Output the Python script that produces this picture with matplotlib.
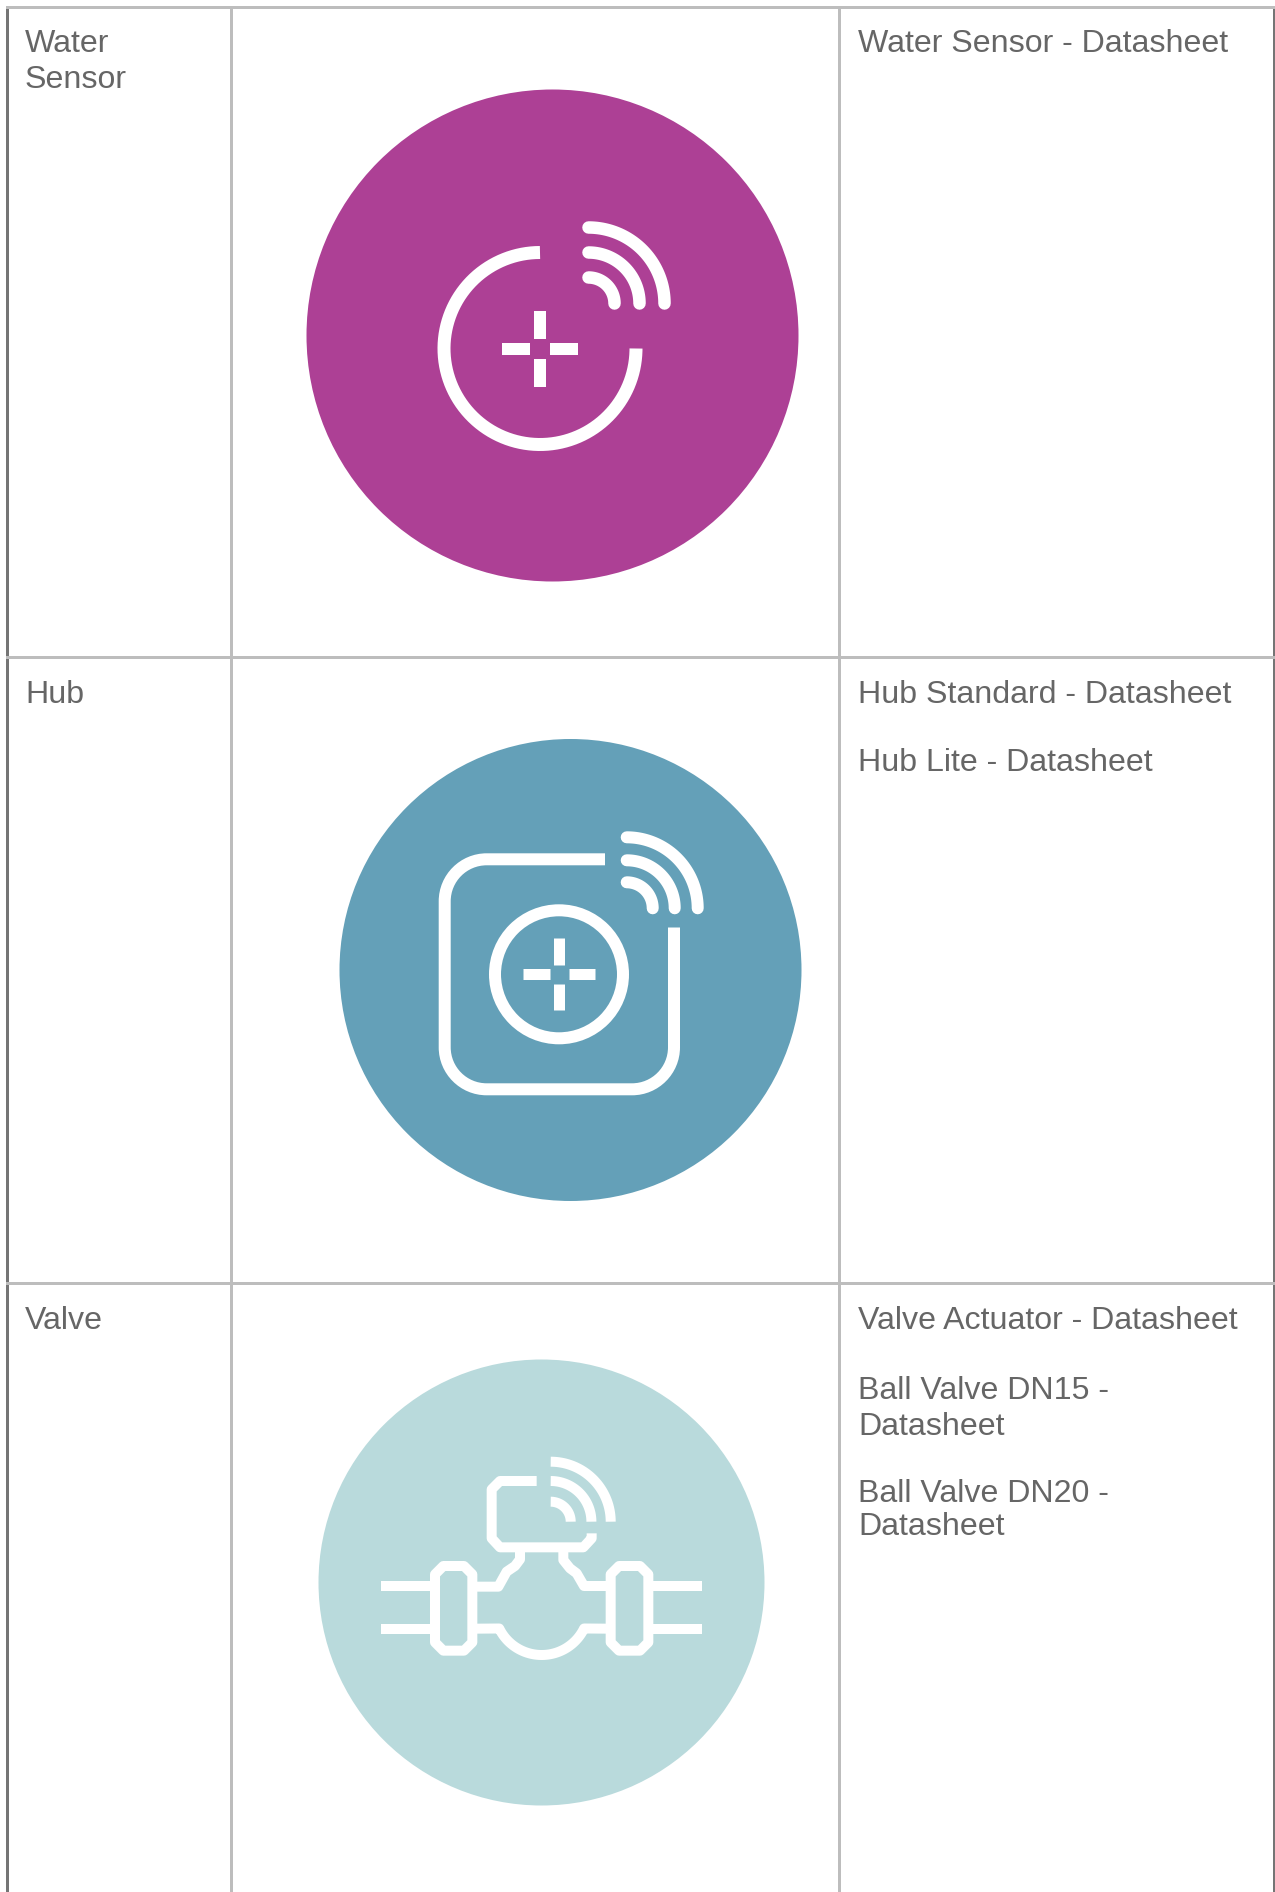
import matplotlib
matplotlib.use('Agg')
import matplotlib.pyplot as plt
import numpy as np
from matplotlib.patches import Circle, PathPatch
from matplotlib.path import Path

# table content
names = [['Water', 'Sensor'], ['Hub'], ['Valve']]
links = [
    ['Water Sensor - Datasheet'],
    ['Hub Standard - Datasheet', 'Hub Lite - Datasheet'],
    ['Valve Actuator - Datasheet', 'Ball Valve DN15 -', 'Datasheet', 'Ball Valve DN20 -', 'Datasheet'],
]
name_y = [[52, 88], [703], [1329]]
link_y = [[52], [703, 771], [1329, 1399, 1435, 1502, 1535]]
circle_colors = ['#AD4095', '#64A0B8', '#B9DADC']
circle_xy = [(552.5, 335.5), (570.5, 970), (541.5, 1582.5)]
circle_r = [246, 231, 223]

GREY = '#BDBDBD'
DARK = '#757575'
TXT = '#666666'
W = 'white'

def px(w):
    return w * 72 / 100

fig = plt.figure(figsize=(12.75, 18.92), dpi=100)
ax = fig.add_axes([0, 0, 1, 1])
ax.set_xlim(0, 1275)
ax.set_ylim(1892, 0)
ax.axis('off')

def wifi(cx, cy, radii, lw, cap):
    for r in radii:
        t = np.linspace(-np.pi / 2, 0, 60)
        ax.plot(cx + r * np.cos(t), cy + r * np.sin(t), color=W, lw=px(lw), solid_capstyle=cap)

def plus(cx, cy, gap, arm, lw):
    for dx, dy in [(1, 0), (-1, 0), (0, 1), (0, -1)]:
        ax.plot([cx + dx * gap, cx + dx * arm], [cy + dy * gap, cy + dy * arm],
                color=W, lw=px(lw), solid_capstyle='butt')

def poly(pts, lw=10):
    # points read in zoom coords of the valve crop
    xs = [360 + p[0] / 3 for p in pts]
    ys = [1430 + p[1] / 3 for p in pts]
    ax.plot(xs, ys, color=W, lw=px(lw), solid_capstyle='butt', solid_joinstyle='round')

# grid lines
for x0, x1, c in [(6, 9, DARK), (230, 233, GREY), (838, 841, GREY), (1273, 1275, DARK)]:
    ax.fill_between([x0, x1], 8, 1892, color=c, lw=0)
for y0, y1 in [(6, 9), (656, 659), (1282, 1285)]:
    ax.fill_between([6, 1275], y0, y1, color=GREY, lw=0)

for c, xy, r in zip(circle_colors, circle_xy, circle_r):
    ax.add_patch(Circle(xy, r, fc=c, ec='none'))

# water sensor icon
t = np.radians(np.linspace(90, 360, 200))
ax.plot(540 + 96 * np.cos(t), 348.5 - 96 * np.sin(t), color=W, lw=px(13), solid_capstyle='butt')
plus(540, 349, 10, 38, 12)
wifi(588.5, 303.5, [76, 51, 26], 12.5, 'round')

# hub icon
l, r_, t_, b, c = 444.7, 674, 859.3, 1089.3, 42
k = 0.5523 * c
verts = [(605, t_), (l + c, t_), (l + c - k, t_), (l, t_ + c - k), (l, t_ + c),
         (l, b - c), (l, b - c + k), (l + c - k, b), (l + c, b),
         (r_ - c, b), (r_ - c + k, b), (r_, b - c + k), (r_, b - c), (r_, 927.5)]
codes = [Path.MOVETO, Path.LINETO, Path.CURVE4, Path.CURVE4, Path.CURVE4,
         Path.LINETO, Path.CURVE4, Path.CURVE4, Path.CURVE4,
         Path.LINETO, Path.CURVE4, Path.CURVE4, Path.CURVE4, Path.LINETO]
ax.add_patch(PathPatch(Path(verts, codes), fc='none', ec=W, lw=px(12), capstyle='butt'))
ax.add_patch(Circle((559, 974.3), 64, fc='none', ec=W, lw=px(12)))
plus(559, 974, 9.5, 36, 11)
wifi(626.7, 908.3, [71, 48, 26], 12, 'round')

# valve icon
wifi(550.7, 1521.7, [60, 40.7, 20], 10, 'butt')
poly([(530, 153), (420, 153), (395, 178), (395, 325), (420, 352), (670, 352), (695, 325), (695, 310)])
poly([(480, 365), (480, 388), (465, 408), (440, 425), (415, 470), (350, 470)])
poly([(610, 365), (610, 390), (630, 415), (650, 430), (672, 468), (740, 468)])
for xl, xr in [(225, 337), (752, 865)]:
    poly([(xl + 25, 408), (xr - 25, 408), (xr, 433), (xr, 637), (xr - 25, 662),
          (xl + 25, 662), (xl, 637), (xl, 433), (xl + 25, 408), (xr - 25, 408)])
for y in [468, 596]:
    poly([(62, y), (212, y)])
    poly([(878, y), (1025, y)])
# lower pipe with the belly of the valve, one line so the joints stay clean
a = np.radians(np.linspace(154, 26, 60))
belly = list(zip(545 + 141.6 * np.cos(a), 533.4 + 141.6 * np.sin(a)))
poly([(350, 596)] + belly + [(740, 596)])

# text
FS = 23.1
for rows, ys in zip(names, name_y):
    for s, y in zip(rows, ys):
        ax.text(25, y, s, color=TXT, fontsize=FS, family='Liberation Sans', va='baseline', ha='left')
for rows, ys in zip(links, link_y):
    for s, y in zip(rows, ys):
        ax.text(858, y, s, color=TXT, fontsize=FS, family='Liberation Sans', va='baseline', ha='left')

fig.savefig('out.png', dpi=100, facecolor='white')
